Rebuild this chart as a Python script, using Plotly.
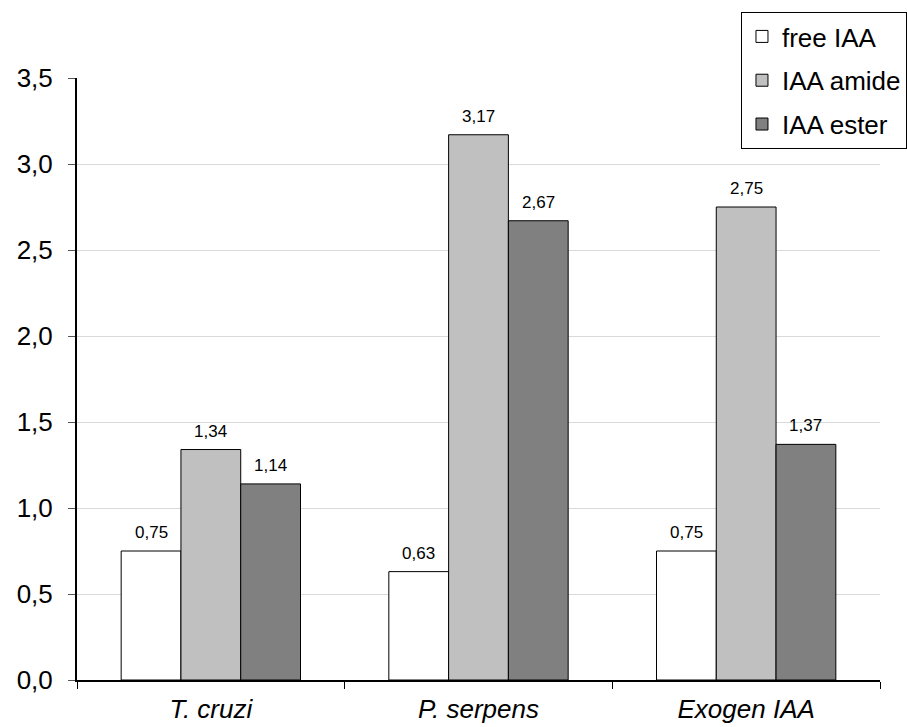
import plotly.graph_objects as go

categories = ["T. cruzi", "P. serpens", "Exogen IAA"]
free_iaa = [0.75, 0.63, 0.75]
iaa_amide = [1.34, 3.17, 2.75]
iaa_ester = [1.14, 2.67, 1.37]

series = [
    ("free IAA", free_iaa, "#ffffff"),
    ("IAA amide", iaa_amide, "#c0c0c0"),
    ("IAA ester", iaa_ester, "#808080"),
]

FONT = "Liberation Sans, Arial, sans-serif"
BARGAP = 0.33

fig = go.Figure()
for name, vals, color in series:
    fig.add_trace(go.Bar(
        x=categories, y=vals, name=name, legendgroup=name,
        marker=dict(color=color, line=dict(color="#000000", width=1)),
        cliponaxis=False,
    ))

# value labels centred over each bar of a group
bar_w = (1 - BARGAP) / len(series)
for s_idx, (name, vals, color) in enumerate(series):
    offset = (s_idx - (len(series) - 1) / 2) * bar_w
    for c_idx, v in enumerate(vals):
        fig.add_annotation(
            x=c_idx + offset, y=v, xref="x", yref="y",
            text=f"{v:.2f}".replace(".", ","),
            showarrow=False, yanchor="bottom", yshift=7,
            font=dict(family=FONT, size=17, color="#000000"),
        )

fig.update_layout(
    width=907, height=727,
    margin=dict(l=77, r=27, t=78, b=47, autoexpand=False),
    paper_bgcolor="white", plot_bgcolor="white",
    separators=",.",
    barmode="group", bargap=BARGAP, bargroupgap=0,
    font=dict(family=FONT, size=26, color="#000000"),
    showlegend=True,
    legend=dict(
        x=1.0336, y=1.1096, xanchor="right", yanchor="top",
        bordercolor="#000000", borderwidth=1, bgcolor="white",
        font=dict(family=FONT, size=26), tracegroupgap=7, itemwidth=30,
    ),
)
fig.update_xaxes(
    showline=True, linecolor="#000000", linewidth=2,
    ticks="outside", tickson="boundaries", ticklen=7, tickcolor="#000000",
    tickfont=dict(family=FONT, size=26, style="italic"),
    ticklabelstandoff=5,
    showgrid=False,
)
fig.update_yaxes(
    range=[0, 3.5], dtick=0.5, tickformat=".1f",
    showline=True, linecolor="#000000", linewidth=2,
    ticks="outside", ticklen=7, tickcolor="#555555",
    tickfont=dict(family=FONT, size=26),
    ticklabelstandoff=10,
    showgrid=True, gridcolor="#d9d9d9", gridwidth=1,
    zeroline=False,
)

fig.write_html("out.html")
